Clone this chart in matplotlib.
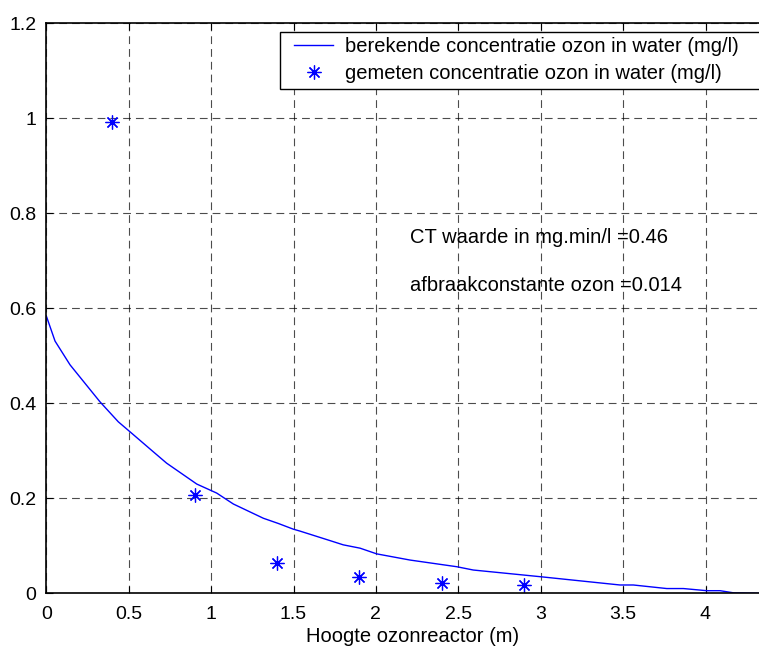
import matplotlib
matplotlib.use("Agg")
import matplotlib.pyplot as plt
from matplotlib.patches import Rectangle

plt.rcParams['font.family'] = ['Liberation Sans', 'DejaVu Sans']

# Modelled ozone concentration along reactor height
hoogte_model = [0.0, 0.053, 0.144, 0.235, 0.326, 0.437, 0.508, 0.649, 0.730, 0.913,
                1.034, 1.135, 1.317, 1.408, 1.499, 1.539, 1.721, 1.802, 1.904, 2.005,
                2.207, 2.308, 2.490, 2.591, 2.996, 3.481, 3.562, 3.765, 3.866, 4.007,
                4.088, 4.17, 4.33]
conc_model = [0.584, 0.531, 0.481, 0.442, 0.403, 0.361, 0.340, 0.298, 0.274, 0.230,
              0.211, 0.188, 0.158, 0.147, 0.135, 0.131, 0.111, 0.102, 0.095, 0.083,
              0.070, 0.065, 0.056, 0.049, 0.035, 0.0175, 0.0175, 0.010, 0.010, 0.0055,
              0.0055, 0.001, 0.0]

# Measured ozone concentration
hoogte_meting = [0.4, 0.9, 1.4, 1.9, 2.4, 2.9]
conc_meting = [0.992, 0.207, 0.063, 0.035, 0.021, 0.0175]

xticks = [0, 0.5, 1, 1.5, 2, 2.5, 3, 3.5, 4]
xticklabels = ['0', '0.5', '1', '1.5', '2', '2.5', '3', '3.5', '4']
yticks = [0, 0.2, 0.4, 0.6, 0.8, 1.0, 1.2]
yticklabels = ['0', '0.2', '0.4', '0.6', '0.8', '1', '1.2']

W, H = 759, 651
fig = plt.figure(figsize=(W / 100, H / 100), dpi=100)
left_px, bottom_px, top_px = 46.3, 593.3, 23.3
px_per_x = 164.8
xmax = 4.5
ax = fig.add_axes([left_px / W, 1 - bottom_px / H,
                   xmax * px_per_x / W, (bottom_px - top_px) / H])

blue = '#0000ff'
FS = 14.5
ax.plot(hoogte_model, conc_model, color=blue, lw=1.0,
        label='berekende concentratie ozon in water (mg/l)')
ax.plot(hoogte_meting, conc_meting, linestyle='none', marker=(8, 2, 0),
        markersize=10, markeredgewidth=0.9, color=blue,
        label='gemeten concentratie ozon in water (mg/l)')

ax.set_xlim(0, xmax)
ax.set_ylim(0, 1.2)
ax.set_xticks(xticks)
ax.set_yticks(yticks)
ax.set_xticklabels(xticklabels)
ax.set_yticklabels(yticklabels)
ax.tick_params(direction='in', top=True, right=True, labelsize=14,
               length=5, width=0.8)
ax.tick_params(axis='x', pad=9)
ax.tick_params(axis='y', pad=7)
ax.grid(True, color='k', linestyle=(0, (7, 4.5)), linewidth=0.8, alpha=0.7)
for s in ax.spines.values():
    s.set_linewidth(1.2)

ax.set_xlabel('Hoogte ozonreactor (m)', fontsize=FS)
ax.xaxis.set_label_coords((413 - left_px) / (xmax * px_per_x), -0.06)

ax.text(2.207, 0.75, 'CT waarde in mg.min/l =0.46', fontsize=FS, va='center')
ax.text(2.207, 0.647, 'afbraakconstante ozon =0.014', fontsize=FS, va='center')

# Legend frame
frame = Rectangle((280 / W, 1 - 89 / H), 600 / W, (89 - 32.3) / H,
                  transform=fig.transFigure, facecolor='white', edgecolor='k',
                  linewidth=1.0, clip_on=False, zorder=4)
ax.add_patch(frame)

leg = ax.legend(loc='upper left', bbox_to_anchor=(294 / W, 1 - 37.5 / H),
                bbox_transform=fig.transFigure, fontsize=FS, frameon=False,
                borderpad=0, labelspacing=0.36, handlelength=1.95,
                handletextpad=0.6, borderaxespad=0)
leg.set_zorder(5)

fig.savefig('out.png', dpi=100)
